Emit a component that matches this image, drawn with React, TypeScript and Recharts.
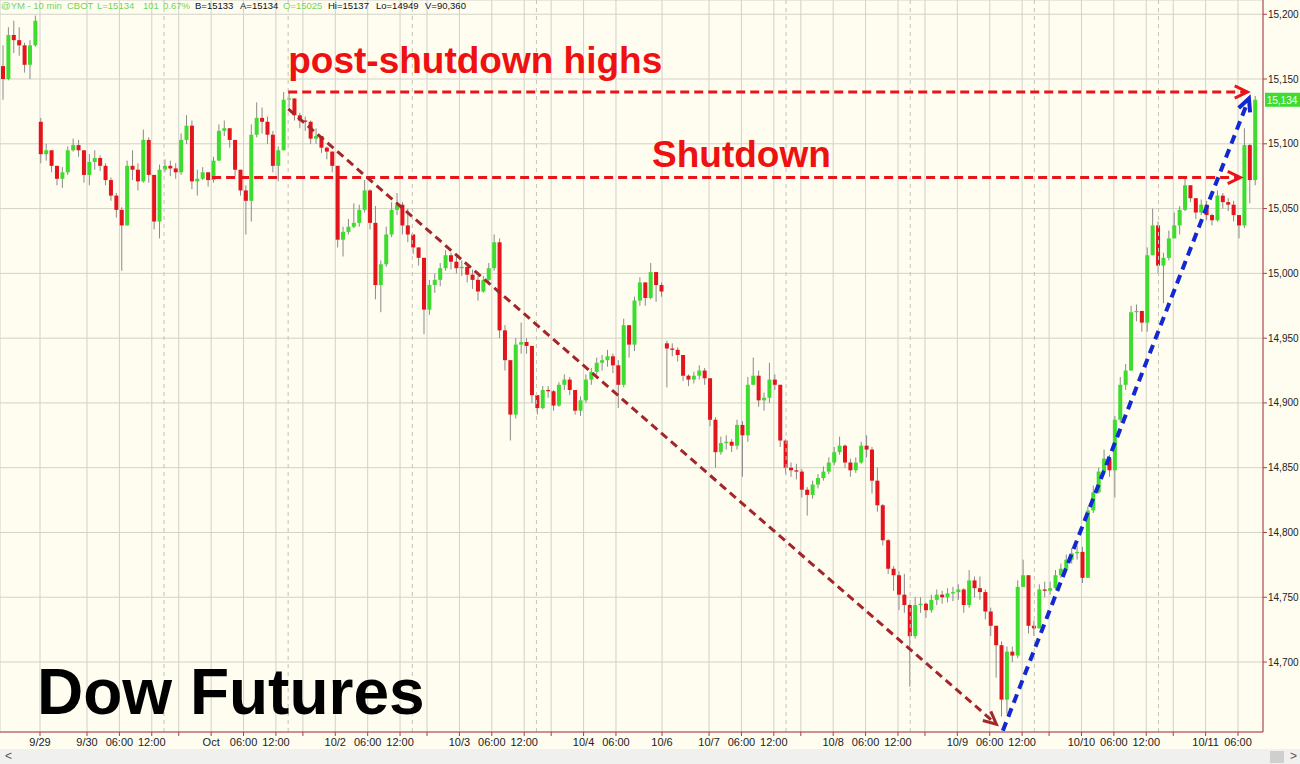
import {
  Bar,
  CartesianGrid,
  ComposedChart,
  ReferenceDot,
  ReferenceLine,
  XAxis,
  YAxis,
} from 'recharts'

// hourly bars, oldest first (Fri 9/27 tail, then 9/29 .. 10/11)
const closes = [
  15150, 15184, 15180, 15176, 15161, 15176, 15195,
  15092, 15095, 15083, 15073, 15078, 15095, 15099, 15095, 15076, 15086,
  15089, 15083, 15072, 15060, 15049, 15037, 15083, 15080, 15071, 15103,
  15076, 15040, 15080, 15083, 15081, 15078, 15103, 15114, 15071, 15073,
  15078, 15072, 15087, 15110, 15112, 15103, 15080, 15064, 15056, 15107,
  15120, 15117, 15107, 15083, 15095, 15134, 15135, 15122, 15118, 15117,
  15104, 15106, 15097, 15094, 15083, 15026, 15032, 15036, 15039, 15049,
  15064, 15039, 14991, 15007, 15030, 15049, 15053, 15037, 15030, 15020,
  15012, 14972, 14991, 14995, 15004, 15014, 15009, 15004, 15005, 14999,
  14995, 14986, 14995, 15004, 15024, 14956, 14933, 14891, 14945, 14947,
  14944, 14906, 14896, 14910, 14909, 14898, 14914, 14918, 14910, 14894,
  14902, 14918, 14924, 14931, 14933, 14936, 14929, 14914, 14960, 14945,
  14979, 14993, 14981, 15001, 14991, 14986,
  14942, 14941, 14937, 14921, 14918, 14921, 14925, 14919, 14887, 14862,
  14869, 14870, 14867, 14883, 14875, 14914, 14921, 14902, 14904, 14918,
  14914, 14871, 14850, 14848, 14847, 14833, 14829, 14837, 14842, 14847,
  14854, 14862, 14867, 14854, 14848, 14854, 14867, 14864, 14840, 14821,
  14794, 14772, 14767, 14752, 14744, 14720, 14744, 14745, 14740, 14748,
  14752, 14750, 14753, 14754, 14756, 14744, 14763, 14757, 14754, 14739,
  14728, 14713, 14671, 14708, 14705, 14758, 14767, 14728, 14726, 14756,
  14755, 14757, 14767, 14772, 14779, 14784, 14785, 14765, 14817, 14831,
  14847, 14857, 14848, 14887, 14914, 14925, 14970, 14971, 14962, 15014,
  15037, 15006, 15012, 15027, 15037, 15049, 15068, 15058, 15047, 15053,
  15045, 15041, 15060, 15055, 15053, 15045, 15037, 15099, 15072, 15134,
]

const highs = [
  15176, 15190, 15195, 15190, 15178, 15180, 15199,
  15120, 15100, 15095, 15083, 15082, 15098, 15104, 15103, 15095, 15092,
  15095, 15091, 15085, 15074, 15062, 15051, 15087, 15095, 15085, 15111,
  15105, 15076, 15084, 15088, 15087, 15085, 15108, 15122, 15118, 15080,
  15082, 15078, 15090, 15115, 15118, 15112, 15103, 15080, 15068, 15115,
  15132, 15128, 15121, 15110, 15098, 15140, 15140, 15135, 15124, 15121,
  15118, 15112, 15105, 15098, 15093, 15083, 15036, 15042, 15054, 15053,
  15072, 15065, 15052, 15010, 15036, 15055, 15062, 15055, 15050, 15030,
  15020, 15012, 14995, 15000, 15008, 15018, 15016, 15013, 15010, 15007,
  15003, 14998, 14998, 15008, 15030, 15027, 14960, 14933, 14950, 14962,
  14950, 14944, 14904, 14913, 14913, 14910, 14916, 14922, 14920, 14910,
  14905, 14922, 14927, 14935, 14937, 14941, 14938, 14933, 14965, 14960,
  14982, 14997, 14993, 15008, 15000, 14993,
  14948, 14946, 14943, 14937, 14922, 14924, 14929, 14927, 14919, 14889,
  14874, 14875, 14872, 14887, 14886, 14920, 14935, 14925, 14908, 14931,
  14922, 14914, 14872, 14854, 14853, 14849, 14835, 14840, 14845, 14851,
  14858, 14866, 14874, 14868, 14857, 14858, 14870, 14875, 14866, 14850,
  14822, 14795, 14774, 14770, 14768, 14745, 14750, 14750, 14746, 14752,
  14756, 14755, 14757, 14758, 14760, 14757, 14771, 14766, 14766, 14756,
  14742, 14728, 14716, 14712, 14712, 14763, 14779, 14767, 14732, 14760,
  14762, 14762, 14771, 14776, 14783, 14788, 14790, 14789, 14820, 14836,
  14850, 14864, 14860, 14890, 14920, 14930, 14975, 14976, 14970, 15020,
  15050, 15040, 15016, 15033, 15047, 15052, 15074, 15068, 15058, 15057,
  15056, 15046, 15064, 15062, 15058, 15056, 15045, 15112, 15100, 15137,
]

const lows = [
  15134, 15149, 15170, 15168, 15155, 15150, 15175,
  15085, 15087, 15078, 15068, 15066, 15076, 15094, 15090, 15070, 15068,
  15080, 15079, 15068, 15056, 15043, 15002, 15037, 15072, 15064, 15070,
  15070, 15034, 15027, 15078, 15075, 15073, 15076, 15100, 15065, 15060,
  15072, 15067, 15070, 15087, 15106, 15097, 15075, 15060, 15030, 15040,
  15105, 15108, 15100, 15078, 15071, 15095, 15128, 15118, 15112, 15110,
  15100, 15100, 15093, 15088, 15078, 15020, 15013, 15030, 15035, 15036,
  15047, 15034, 14980, 14970, 15005, 15028, 15045, 15030, 15024, 15015,
  15006, 14953, 14968, 14985, 14990, 15002, 15003, 15000, 14998, 14993,
  14988, 14979, 14985, 14994, 15002, 14950, 14925, 14871, 14888, 14938,
  14938, 14900, 14891, 14895, 14904, 14894, 14897, 14910, 14906, 14891,
  14890, 14900, 14914, 14922, 14925, 14928, 14923, 14896, 14912, 14935,
  14940, 14975, 14975, 14980, 14978, 14982,
  14912, 14936, 14932, 14917, 14913, 14915, 14918, 14914, 14882, 14850,
  14860, 14864, 14862, 14864, 14843, 14870, 14914, 14897, 14894, 14900,
  14910, 14866, 14845, 14843, 14841, 14827, 14813, 14826, 14834, 14840,
  14845, 14852, 14860, 14850, 14843, 14846, 14853, 14858, 14830, 14816,
  14790, 14768, 14755, 14740, 14738, 14681, 14718, 14738, 14734, 14738,
  14744, 14745, 14746, 14747, 14748, 14738, 14742, 14750, 14748, 14733,
  14720, 14688, 14658, 14660, 14700, 14703, 14760, 14722, 14720, 14726,
  14750, 14752, 14756, 14765, 14771, 14776, 14779, 14761, 14765, 14815,
  14830, 14845, 14843, 14827, 14885, 14910, 14926, 14963, 14955, 14955,
  15025, 15000, 14977, 15010, 15030, 15030, 15048, 15055, 15042, 15045,
  15041, 15037, 15040, 15050, 15048, 15040, 15027, 15035, 15054, 15068,
]

// first bar of each session opens away from the previous close
const sessionOpens = [
  [0, 15160],
  [7, 15117],
  [123, 14946],
]

// x axis is in trading hours
const tickHours = [
  7.41, 16.12, 22.12, 28.12, 33.12, 39.12, 45.12, 51.12, 56.12, 62.12, 68.12,
  74.12, 79.12, 85.12, 91.12, 97.12, 102.12, 108.12, 114.12, 122.66, 131.37,
  137.37, 143.37, 148.37, 154.37, 160.37, 166.37, 171.37, 177.37, 183.37,
  189.37, 194.37, 200.37, 206.37, 212.37, 217.37, 223.37, 229.37,
]
const tickLabels = [
  '9/29', '9/30', '06:00', '12:00', '', 'Oct', '06:00', '12:00', '', '10/2',
  '06:00', '12:00', '', '10/3', '06:00', '12:00', '', '10/4', '06:00', '10/6',
  '10/7', '06:00', '12:00', '', '10/8', '06:00', '12:00', '', '10/9', '06:00',
  '12:00', '', '10/10', '06:00', '12:00', '', '10/11', '06:00',
]
const cashCloseHours = [30.39, 53.39, 76.39, 99.39, 145.64, 168.64, 191.64, 214.64]

const priceTicks = [14700, 14750, 14800, 14850, 14900, 14950, 15000, 15050, 15100, 15150, 15200]

const postShutdownLine = [
  [53.4, 15140],
  [231.1, 15140],
]
const shutdownLine = [
  [39.3, 15074],
  [229.8, 15074],
]
const declineLine = [
  [53.4, 15127],
  [184.6, 14652],
]
const rallyLine = [
  [185.8, 14647],
  [231.4, 15135],
]

const lastPrice = 15134

// quote header: text, left edge, green or not
const headerParts: [string, number, boolean][] = [
  ['@YM - 10 min', 1, true],
  ['CBOT', 67, true],
  ['L=15134', 97, true],
  ['101', 143, true],
  ['0.67%', 163, true],
  ['B=15133', 195, false],
  ['A=15134', 240, false],
  ['O=15025', 283, true],
  ['Hi=15137', 328, false],
  ['Lo=14949', 376, false],
  ['V=90,360', 425, false],
]

const data = closes.map((close, i) => {
  const gap = sessionOpens.find((s) => s[0] === i)
  const open = gap ? gap[1] : closes[i - 1]
  const high = Math.max(highs[i], open, close)
  const low = Math.min(lows[i], open, close)
  return { t: i + 0.5, open, close, high, low, range: [low, high] }
})

const FONT = '"Liberation Sans", Arial, sans-serif'
const UP = '#3ddc2f'
const DOWN = '#e3141b'
const AXIS = '#b03a48'

function Candle(props: any) {
  const { x, y, width, height, payload } = props
  if (!payload) return null
  const top = Math.min(y, y + height)
  const h = Math.abs(height)
  const span = payload.high - payload.low || 1
  const k = h / span
  const yOf = (v: number) => top + (payload.high - v) * k
  const cx = x + width / 2
  const bodyTop = yOf(Math.max(payload.open, payload.close))
  const bodyBot = yOf(Math.min(payload.open, payload.close))
  return (
    <g>
      <line x1={cx} x2={cx} y1={top} y2={top + h} stroke="#8a8a8a" strokeWidth={1} />
      <rect
        x={x}
        y={bodyTop}
        width={width}
        height={Math.max(1, bodyBot - bodyTop)}
        fill={payload.close >= payload.open ? UP : DOWN}
      />
    </g>
  )
}

const arrowShape = (color: string, w: number, dash: string) => (p: any) => {
  const { x1, y1, x2, y2 } = p
  const ang = Math.atan2(y2 - y1, x2 - x1)
  const len = 14
  const spread = 0.45
  const ax = x2 - len * Math.cos(ang - spread)
  const ay = y2 - len * Math.sin(ang - spread)
  const bx = x2 - len * Math.cos(ang + spread)
  const by = y2 - len * Math.sin(ang + spread)
  return (
    <g>
      <line x1={x1} y1={y1} x2={x2} y2={y2} stroke={color} strokeWidth={w} strokeDasharray={dash} />
      <polyline
        points={`${ax},${ay} ${x2},${y2} ${bx},${by}`}
        fill="none"
        stroke={color}
        strokeWidth={w}
      />
    </g>
  )
}

const annText = (text: string, size: number, color: string) => (p: any) => {
  const vb = p.viewBox || {}
  return (
    <text x={vb.x} y={vb.y} fontSize={size} fontWeight="bold" fill={color} fontFamily={FONT}>
      {text}
    </text>
  )
}

const priceTag = (p: any) => {
  const vb = p.viewBox || {}
  const left = vb.x + vb.width + 2
  return (
    <g>
      <rect x={left} y={vb.y - 7} width={36} height={14} fill={UP} />
      <text x={left + 17} y={vb.y + 4} textAnchor="middle" fontSize={10} fill="#fff" fontFamily={FONT}>
        {lastPrice.toLocaleString('en-US')}
      </text>
    </g>
  )
}

const seg = (s: number[][]) => [
  { x: s[0][0], y: s[0][1] },
  { x: s[1][0], y: s[1][1] },
]

export default function App() {
  return (
    <div
      style={{
        position: 'absolute',
        left: 0,
        top: 0,
        width: 1300,
        height: 764,
        background: '#fffcf0',
        fontFamily: FONT,
        overflow: 'hidden',
      }}
    >
      <ComposedChart
        width={1300}
        height={749}
        data={data}
        margin={{ top: 0, right: 0, bottom: 0, left: 0 }}
      >
        <CartesianGrid stroke="#d2d2c6" strokeWidth={1} />
        <XAxis
          dataKey="t"
          type="number"
          domain={[0, 234]}
          allowDataOverflow
          ticks={tickHours}
          interval={0}
          tickFormatter={(_v: number, i: number) => tickLabels[i]}
          height={17}
          tickSize={4}
          tickMargin={2}
          stroke={AXIS}
          tick={{ fill: '#222', fontSize: 11, fontFamily: FONT }}
        />
        <YAxis
          orientation="right"
          type="number"
          domain={[14646, 15211]}
          allowDataOverflow
          ticks={priceTicks}
          interval={0}
          width={37}
          tickSize={4}
          tickMargin={1}
          stroke={AXIS}
          tickFormatter={(v: number) => v.toLocaleString('en-US')}
          tick={{ fill: '#222', fontSize: 10, fontFamily: FONT }}
        />
        {cashCloseHours.map((h) => (
          <ReferenceLine key={h} x={h} stroke="#c4c4b8" strokeDasharray="4 4" />
        ))}
        <Bar dataKey="range" barSize={4} shape={Candle} isAnimationActive={false} />
        <ReferenceLine
          segment={seg(postShutdownLine)}
          ifOverflow="visible"
          shape={arrowShape('#e8141c', 3, '9 5')}
        />
        <ReferenceLine
          segment={seg(shutdownLine)}
          ifOverflow="visible"
          shape={arrowShape('#e8141c', 3, '9 5')}
        />
        <ReferenceLine
          segment={seg(declineLine)}
          ifOverflow="visible"
          shape={arrowShape('#a3262a', 3, '8 5')}
        />
        <ReferenceLine
          segment={seg(rallyLine)}
          ifOverflow="visible"
          shape={arrowShape('#1428d2', 4, '9 6')}
        />
        <ReferenceLine y={lastPrice} stroke="none" ifOverflow="visible" label={priceTag} />
        <ReferenceDot
          x={53.4}
          y={15155}
          r={0}
          ifOverflow="visible"
          label={annText('post-shutdown highs', 37, '#ee1111')}
        />
        <ReferenceDot
          x={120.8}
          y={15082}
          r={0}
          ifOverflow="visible"
          label={annText('Shutdown', 37, '#ee1111')}
        />
        <ReferenceDot
          x={6.86}
          y={14660}
          r={0}
          ifOverflow="visible"
          label={annText('Dow Futures', 64, '#000')}
        />
      </ComposedChart>
      {headerParts.map(([text, left, green]) => (
        <span
          key={text}
          style={{
            position: 'absolute',
            left,
            top: 0,
            fontSize: 9.5,
            lineHeight: '12px',
            whiteSpace: 'pre',
            color: green ? '#6fd65a' : '#111',
          }}
        >
          {text}
        </span>
      ))}
      <div
        style={{
          position: 'absolute',
          left: 0,
          top: 749,
          width: 1300,
          height: 15,
          background: '#f0f0ee',
          fontSize: 12,
          color: '#555',
        }}
      >
        <span style={{ position: 'absolute', left: 5, top: 0 }}>{'<'}</span>
        <div
          style={{
            position: 'absolute',
            left: 1270,
            top: 2,
            width: 14,
            height: 12,
            background: '#cfcfcf',
          }}
        />
        <span style={{ position: 'absolute', left: 1290, top: 0 }}>{'>'}</span>
      </div>
    </div>
  )
}
